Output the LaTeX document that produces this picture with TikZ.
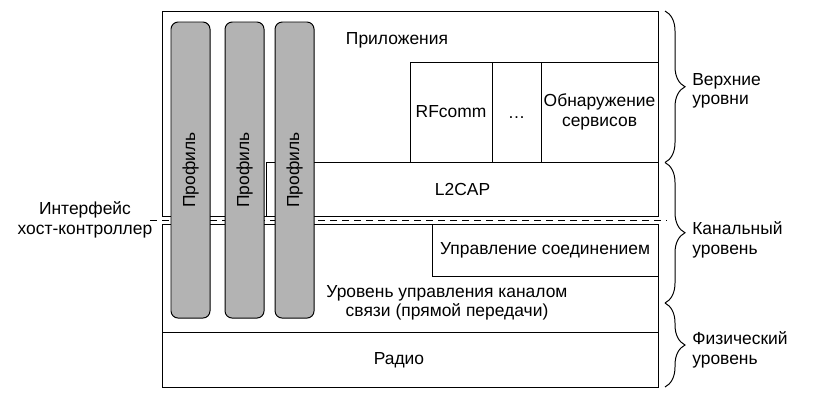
\documentclass[tikz,border=0pt]{standalone}
\usepackage{fontspec}
\setmainfont{Liberation Sans}
\usepackage{tikz}
\usetikzlibrary{decorations.pathreplacing}
\usetikzlibrary{shapes,positioning}
\definecolor{profgray}{RGB}{179,179,179}
\tikzset{
  layer/.style={draw, line width=0.7pt, inner sep=0pt, outer sep=0pt, align=center},
  profile/.style={draw, line width=0.7pt, fill=profgray, rounded corners=0.18cm, inner sep=0pt,
    outer sep=0pt, minimum width=0.975cm, minimum height=7.4cm, anchor=north west},
  side/.style={align=left, anchor=west, inner sep=0pt},
  levelbrace/.style={decorate, decoration={brace, amplitude=0.5cm}, line width=0.7pt}
}

\begin{document}
\begin{tikzpicture}[x=0.025cm, y=-0.025cm, font=\fontsize{12.4}{13.8}\selectfont]
           \useasboundingbox (0,0) rectangle (814,403);
           % host part
           \node [layer, anchor=north west, minimum width=12.4cm, minimum height=5.1375cm] (host) at (162,11) {};
           \node (apps) at (397,40) {Приложения};
           \node [layer, anchor=north west, minimum width=2.05cm, minimum height=2.5cm] (RFcomm) at (410,62) {RFcomm};
           \node [layer, right=0pt of RFcomm, minimum width=1.225cm, minimum height=2.5cm] (dots) {\vphantom{RF}…};
           \node [layer, right=0pt of dots, minimum width=2.925cm, minimum height=2.5cm] (SDP) {Обнаружение\\сервисов};
           \node [layer, anchor=north east, minimum width=9.775cm, minimum height=1.3625cm] (L2CAP) at (SDP.south east) {L2CAP};
           % controller part
           \node [layer, anchor=north west, minimum width=12.4cm, minimum height=2.7cm] (LC) at (162,224.5) {};
           \node [layer, anchor=north east, minimum width=5.65cm, minimum height=1.305cm] (LM) at (LC.north east) {Управление соединением};
           \node [align=center] (LCtext) at (447,303) {Уровень управления каналом\\связи (прямой передачи)};
           \node [layer, below=0pt of LC, minimum width=12.4cm, minimum height=1.37cm] (radio) {};
           \node (radiotext) at (399,360) {Радио};
           % host-controller interface
           \coordinate (hciW) at (150,220.5);
           \coordinate (hciE) at (667,220.5);
           \draw [line width=0.7pt, dash pattern=on 0.175cm off 0.125cm] (hciW) -- (hciE);
           \node [align=center] (hci) at (85,220) {Интерфейс\\хост-контроллер};
           % profiles
           \node [profile] (prof1) at (171,22) {};
           \node [profile, right=0.375cm of prof1] (prof2) {};
           \node [profile, right=0.275cm of prof2] (prof3) {};
           \foreach \i in {1,2,3}
             \node [rotate=90] (proflab\i) at (prof\i) {Профиль};
           % levels
           \coordinate (b0) at (665,11);
           \coordinate (b1) at (665,162.5);
           \coordinate (b2) at (665,303);
           \coordinate (b3) at (665,387);
           \draw [levelbrace] (b0) -- (b1);
           \draw [levelbrace] (b1) -- (b2);
           \draw [levelbrace] (b2) -- (b3);
           \node [side] (upper) at (692,91) {Верхние\\уровни};
           \node [side] (link) at (692,240) {Канальный\\уровень};
           \node [side] (phys) at (692,350) {Физический\\уровень};
      \end{tikzpicture}
\end{document}
